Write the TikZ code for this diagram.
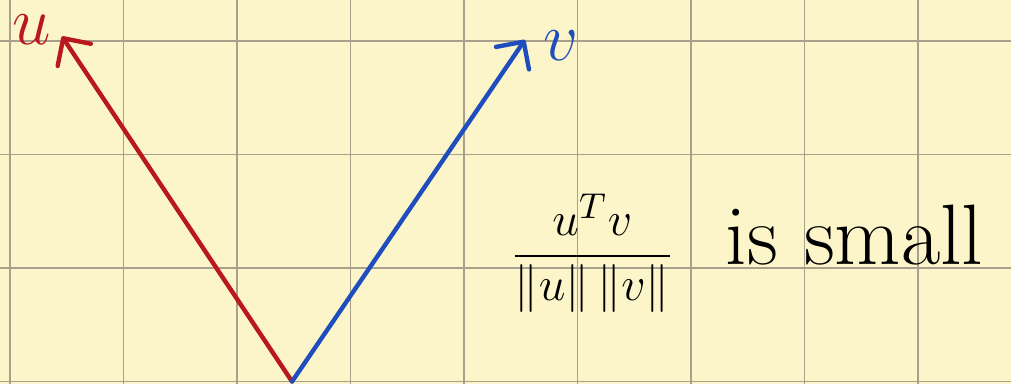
\documentclass[tikz,border=0pt]{standalone}
\usepackage{amsmath,amssymb}
\usepackage{xcolor}
\usepackage{tikz}
\usetikzlibrary{arrows.meta,positioning}
\definecolor{paper}{RGB}{252,245,201}
\definecolor{gridgray}{RGB}{168,160,140}
\definecolor{ured}{RGB}{185,25,30}
\definecolor{vblue}{RGB}{30,78,190}

\begin{document}
\begin{tikzpicture}[
  >={Straight Barb[length=5pt,width=10pt,round]},
  vec/.style={->, line width=1.1pt, line cap=round},
  lbl/.style={inner sep=0pt, font=\fontsize{16}{19}\selectfont},
  txt/.style={inner sep=0pt, font=\fontsize{21.5}{25}\selectfont},
]
\fill[paper] (-0.088,-0.022) rectangle (8.819,3.361);
\useasboundingbox (-0.088,-0.022) rectangle (8.819,3.361);
\draw[gridgray, line width=0.45pt] (-0.088,-0.022) grid (8.819,3.361);

\coordinate (orig) at (2.485,0);
\coordinate (utip) at (0.458,3.04);
\coordinate (vtip) at (4.537,3.01);
\draw[vec, ured] (orig) -- (utip);
\draw[vec, vblue] (orig) -- (vtip);
\node[lbl, color=ured] (ulab) at (0.19,3.1) {$u$};
\node[lbl, color=vblue] (vlab) at (4.855,2.955) {$v$};

\node[inner sep=0pt, anchor=base, font=\fontsize{13}{16}\selectfont] (cosfrac) at (5.13,1.0)
  {$\dfrac{u^{T}v}{\|u\|\,\|v\|}$};
\node[txt, anchor=base west] (small) at (6.30,1.03) {is small};
\end{tikzpicture}
\end{document}
